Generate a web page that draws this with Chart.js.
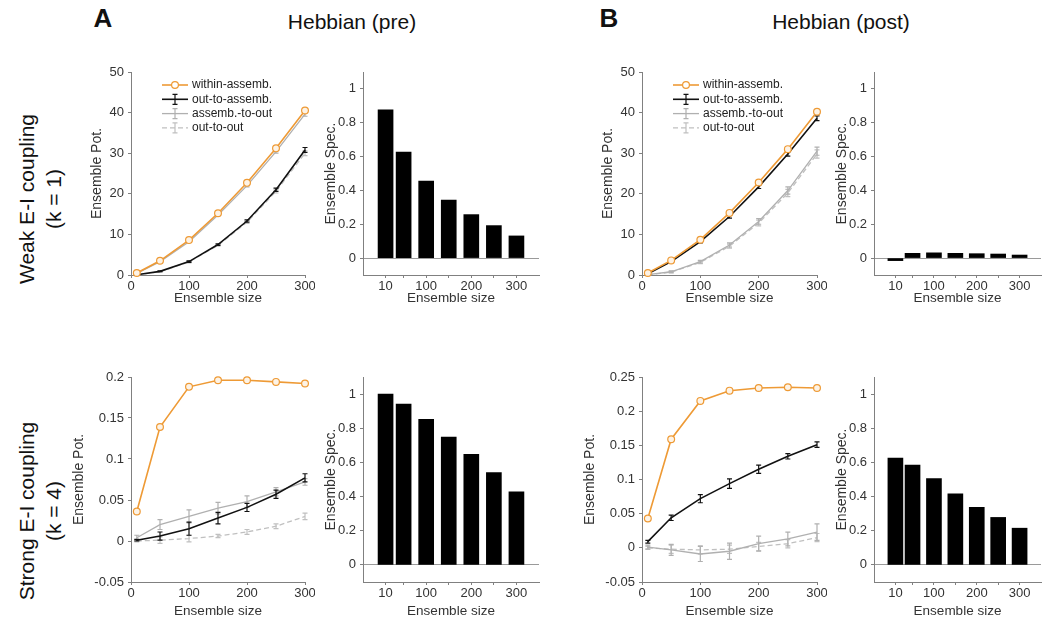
<!DOCTYPE html>
<html>
<head>
<meta charset="utf-8">
<script src="https://cdn.jsdelivr.net/npm/chart.js@4"></script>
<style>
  body { margin: 0; background: #fff; overflow: hidden; }
  #fig { position: relative; width: 1042px; height: 624px; font-family: "Liberation Sans", Arial, Helvetica, sans-serif; color: #111; }
  .lbl { position: absolute; transform: translate(-50%, -50%); white-space: nowrap; }
  .rot { transform: translate(-50%, -50%) rotate(-90deg); }
</style>
</head>
<body>
<div id="fig">
  <div class="lbl" style="left:103px;top:18px;font-size:26px;font-weight:bold;">A</div>
  <div class="lbl" style="left:352px;top:22px;font-size:21px;">Hebbian (pre)</div>
  <div class="lbl" style="left:609px;top:18px;font-size:26px;font-weight:bold;">B</div>
  <div class="lbl" style="left:841px;top:22px;font-size:21px;">Hebbian (post)</div>
  <div class="lbl rot" style="left:27px;top:199px;font-size:21px;">Weak E-I coupling</div>
  <div class="lbl rot" style="left:54px;top:199px;font-size:21px;">(k = 1)</div>
  <div class="lbl rot" style="left:27px;top:511px;font-size:21px;">Strong E-I coupling</div>
  <div class="lbl rot" style="left:54px;top:511px;font-size:21px;">(k = 4)</div>
</div>
<script>
// ensemble sizes used everywhere
const sizes = [10, 50, 100, 150, 200, 250, 300];
const seriesNames = ['within-assemb.', 'out-to-assemb.', 'assemb.-to-out', 'out-to-out'];

// A, weak coupling (ensemble potency)
const preWeakWithin   = [0.5, 3.5, 8.6, 15.2, 22.7, 31.2, 40.5];
const preWeakOutAsm   = [0.05, 0.9, 3.3, 7.5, 13.3, 21.0, 30.8];
const preWeakAsmOut   = [0.4, 3.3, 8.2, 14.8, 22.0, 30.4, 39.6];
const preWeakOutOut   = [0.05, 0.8, 3.2, 7.3, 13.0, 20.6, 30.0];
const preWeakErrOutAsm = [0.05, 0.1, 0.2, 0.2, 0.3, 0.4, 0.6];
const preWeakErrAsmOut = [0.05, 0.1, 0.2, 0.2, 0.3, 0.4, 0.5];
const preWeakErrOutOut = [0.05, 0.1, 0.2, 0.2, 0.3, 0.4, 0.6];

// B, weak coupling
const postWeakWithin  = [0.5, 3.6, 8.7, 15.3, 22.8, 31.0, 40.2];
const postWeakOutAsm  = [0.3, 3.3, 8.2, 14.4, 21.7, 29.8, 38.6];
const postWeakAsmOut  = [0.1, 0.8, 3.3, 7.4, 13.2, 20.8, 30.5];
const postWeakOutOut  = [0.05, 0.7, 3.1, 7.1, 12.8, 20.2, 29.8];
const postWeakErrOutAsm = [0.1, 0.2, 0.3, 0.4, 0.4, 0.5, 0.6];
const postWeakErrAsmOut = [0.1, 0.2, 0.3, 0.5, 0.7, 0.9, 1.0];
const postWeakErrOutOut = [0.1, 0.2, 0.3, 0.5, 0.7, 0.9, 1.0];

// A, strong coupling
const preStrongWithin = [0.036, 0.139, 0.188, 0.196, 0.196, 0.194, 0.192];
const preStrongOutAsm = [0.001, 0.006, 0.015, 0.028, 0.041, 0.057, 0.077];
const preStrongAsmOut = [0.004, 0.020, 0.030, 0.040, 0.048, 0.060, 0.072];
const preStrongOutOut = [0.000, 0.001, 0.003, 0.006, 0.011, 0.018, 0.030];
const preStrongErrOutAsm = [0.001, 0.005, 0.008, 0.007, 0.005, 0.005, 0.005];
const preStrongErrAsmOut = [0.003, 0.006, 0.008, 0.007, 0.007, 0.005, 0.004];
const preStrongErrOutOut = [0.001, 0.004, 0.004, 0.002, 0.003, 0.003, 0.004];

// B, strong coupling
const postStrongWithin = [0.043, 0.159, 0.215, 0.230, 0.234, 0.235, 0.234];
const postStrongOutAsm = [0.009, 0.044, 0.072, 0.094, 0.115, 0.134, 0.151];
const postStrongAsmOut = [0.001, -0.003, -0.009, -0.005, 0.006, 0.013, 0.023];
const postStrongOutOut = [0.000, -0.002, -0.003, -0.002, 0.002, 0.006, 0.015];
const postStrongErrOutAsm = [0.002, 0.004, 0.006, 0.007, 0.006, 0.004, 0.004];
const postStrongErrAsmOut = [0.003, 0.008, 0.011, 0.012, 0.011, 0.010, 0.012];
const postStrongErrOutOut = [0.002, 0.006, 0.006, 0.006, 0.006, 0.006, 0.006];

// ensemble specificity bars
const preWeakSpec    = [0.877, 0.626, 0.455, 0.343, 0.257, 0.192, 0.131];
const postWeakSpec   = [-0.015, 0.028, 0.031, 0.028, 0.026, 0.024, 0.018];
const preStrongSpec  = [1.0, 0.941, 0.852, 0.748, 0.647, 0.540, 0.428];
const postStrongSpec = [0.625, 0.584, 0.505, 0.416, 0.337, 0.278, 0.215];

// tick values
const potXTicks = [0, 100, 200, 300];
const weakYTicks = [0, 10, 20, 30, 40, 50];
const preStrongYTicks = [-0.05, 0, 0.05, 0.1, 0.15, 0.2];
const postStrongYTicks = [-0.05, 0, 0.05, 0.1, 0.15, 0.2, 0.25];
const specYTicks = [0, 0.2, 0.4, 0.6, 0.8, 1];
const specXLabels = [10, 100, 200, 300];

const FONT = '"Liberation Sans", Arial, Helvetica, sans-serif';
const AXIS = '#808080';
const TEXT = '#333';
const ORANGE = '#EE9A35';

Chart.defaults.font.family = FONT;
Chart.defaults.color = TEXT;

// error bars drawn right after each line so layering stays the same
const errorBars = {
  id: 'errorBars',
  afterDatasetDraw(chart, args) {
    const ds = chart.data.datasets[args.index];
    if (!ds.errors) return;
    const ctx = chart.ctx, y = chart.scales.y;
    ctx.save();
    ctx.strokeStyle = ds.borderColor;
    ctx.lineWidth = 1.2;
    args.meta.data.forEach((pt, i) => {
      const v = ds.data[i].y, e = ds.errors[i];
      const t = y.getPixelForValue(v + e), b = y.getPixelForValue(v - e);
      ctx.beginPath();
      ctx.moveTo(pt.x, t); ctx.lineTo(pt.x, b);
      ctx.moveTo(pt.x - 2.5, t); ctx.lineTo(pt.x + 2.5, t);
      ctx.moveTo(pt.x - 2.5, b); ctx.lineTo(pt.x + 2.5, b);
      ctx.stroke();
    });
    ctx.restore();
  }
};

// legend sitting inside the plot, matlab style
const insideLegend = {
  id: 'insideLegend',
  afterDraw(chart, args, opts) {
    if (!opts.show) return;
    const ctx = chart.ctx, area = chart.chartArea;
    ctx.save();
    ctx.font = '12px ' + FONT;
    ctx.textBaseline = 'middle';
    chart.data.datasets.forEach((ds, i) => {
      const yy = area.top + opts.top + i * opts.row;
      const x0 = area.left + opts.left, x1 = x0 + 26, xm = (x0 + x1) / 2;
      ctx.strokeStyle = ds.borderColor;
      ctx.lineWidth = ds.borderWidth;
      ctx.setLineDash(ds.borderDash || []);
      ctx.beginPath(); ctx.moveTo(x0, yy); ctx.lineTo(x1, yy); ctx.stroke();
      ctx.setLineDash([]);
      if (ds.errors) {
        ctx.lineWidth = 1.2;
        ctx.beginPath();
        ctx.moveTo(xm, yy - 5); ctx.lineTo(xm, yy + 5);
        ctx.moveTo(xm - 2.5, yy - 5); ctx.lineTo(xm + 2.5, yy - 5);
        ctx.moveTo(xm - 2.5, yy + 5); ctx.lineTo(xm + 2.5, yy + 5);
        ctx.stroke();
      } else if (ds.pointRadius) {
        ctx.fillStyle = '#fff';
        ctx.lineWidth = 1.2;
        ctx.beginPath(); ctx.arc(xm, yy, ds.pointRadius, 0, Math.PI * 2); ctx.fill(); ctx.stroke();
      }
      ctx.fillStyle = '#222';
      ctx.fillText(ds.label, x1 + 4, yy);
    });
    ctx.restore();
  }
};

const PAD_T = 10;
function frame(area, yw, xh, padR) {
  const w = yw + (area.r - area.l) + padR;
  const h = PAD_T + (area.b - area.t) + xh;
  const c = document.createElement('canvas');
  c.width = w; c.height = h;
  c.style.cssText = `position:absolute;left:${area.l - yw}px;top:${area.t - PAD_T}px;width:${w}px;height:${h}px`;
  document.getElementById('fig').appendChild(c);
  return c;
}

function xAxis(min, max, ticks, labelFn, xh) {
  return {
    type: 'linear', min, max, offset: false,
    afterBuildTicks: s => { s.ticks = ticks.map(v => ({ value: v })); },
    afterFit: s => { s.height = xh; s.paddingLeft = 0; s.paddingRight = 0; },
    ticks: { autoSkip: false, maxRotation: 0, padding: 1, color: TEXT, font: { size: 13 }, callback: labelFn },
    grid: { drawOnChartArea: false, offset: false, tickLength: 3, color: AXIS },
    border: { color: AXIS },
    title: { display: true, text: 'Ensemble size', color: TEXT, font: { size: 13.5, lineHeight: 1 }, padding: 0 }
  };
}

function yAxis(min, max, ticks, title, yw, zeroLine) {
  return {
    type: 'linear', min, max,
    afterBuildTicks: s => { s.ticks = ticks.map(v => ({ value: v })); },
    afterFit: s => { s.width = yw; s.paddingTop = 0; s.paddingBottom = 0; },
    ticks: { padding: 4, color: TEXT, font: { size: 13 }, callback: v => String(v) },
    grid: zeroLine
      ? { drawOnChartArea: true, tickLength: 3, tickColor: AXIS, color: c => (c.tick && c.tick.value === 0 ? '#9a9a9a' : 'rgba(0,0,0,0)') }
      : { drawOnChartArea: false, tickLength: 3, color: AXIS },
    border: { color: AXIS },
    title: { display: true, text: title, color: TEXT, font: { size: 14, lineHeight: 1 }, padding: 0 }
  };
}

function pts(vals) {
  return sizes.map((s, i) => ({ x: s, y: vals[i] }));
}

function potChart(area, yw, xh, yMin, yMax, yTicks, within, outAsm, asmOut, outOut, eOutAsm, eAsmOut, eOutOut, legend) {
  new Chart(frame(area, yw, xh, 10), {
    type: 'line',
    data: {
      datasets: [
        { label: seriesNames[0], data: pts(within), borderColor: ORANGE, borderWidth: 1.6,
          pointRadius: 3.4, pointBorderWidth: 1.2, pointBackgroundColor: '#fdf3e6', pointBorderColor: ORANGE },
        { label: seriesNames[1], data: pts(outAsm), errors: eOutAsm, borderColor: '#111', borderWidth: 1.6, pointRadius: 0 },
        { label: seriesNames[2], data: pts(asmOut), errors: eAsmOut, borderColor: '#b0b0b0', borderWidth: 1.3, pointRadius: 0 },
        { label: seriesNames[3], data: pts(outOut), errors: eOutOut, borderColor: '#c0c0c0', borderWidth: 1.3, borderDash: [5, 3], pointRadius: 0 }
      ]
    },
    options: {
      responsive: false, animation: false,
      layout: { padding: { top: PAD_T, right: 10, left: 0, bottom: 0 } },
      datasets: { line: { clip: false, tension: 0 } },
      scales: {
        x: xAxis(0, 300, potXTicks, v => String(v), xh),
        y: yAxis(yMin, yMax, yTicks, 'Ensemble Pot.', yw, false)
      },
      plugins: {
        legend: { display: false }, tooltip: { enabled: false },
        insideLegend: { show: legend, left: 31, top: 13, row: 14.3 }
      }
    },
    plugins: [errorBars, insideLegend]
  });
}

function specChart(area, xh, padR, vals) {
  new Chart(frame(area, 39, xh, padR), {
    type: 'bar',
    data: { datasets: [{ label: 'Ensemble Spec.', data: pts(vals), backgroundColor: '#000', borderWidth: 0, barThickness: 15 }] },
    options: {
      responsive: false, animation: false,
      layout: { padding: { top: PAD_T, right: padR, left: 0, bottom: 0 } },
      scales: {
        x: xAxis(-40, 350, sizes, v => (specXLabels.includes(v) ? String(v) : ''), xh),
        y: yAxis(-0.1, 1.1, specYTicks, 'Ensemble Spec.', 39, true)
      },
      plugins: { legend: { display: false }, tooltip: { enabled: false } }
    }
  });
}

const topRow = { t: 72, b: 275 }, botRow = { t: 377, b: 582 };
const box = (col, row) => ({ l: col[0], r: col[1], t: row.t, b: row.b });
const colLineA = [131, 305], colBarA = [363, 539], colLineB = [642, 817], colBarB = [874, 1041];

potChart(box(colLineA, topRow), 41, 30, 0, 50, weakYTicks,
  preWeakWithin, preWeakOutAsm, preWeakAsmOut, preWeakOutOut, preWeakErrOutAsm, preWeakErrAsmOut, preWeakErrOutOut, true);
specChart(box(colBarA, topRow), 30, 10, preWeakSpec);
potChart(box(colLineB, topRow), 41, 30, 0, 50, weakYTicks,
  postWeakWithin, postWeakOutAsm, postWeakAsmOut, postWeakOutOut, postWeakErrOutAsm, postWeakErrAsmOut, postWeakErrOutOut, true);
specChart(box(colBarB, topRow), 30, 1, postWeakSpec);

potChart(box(colLineA, botRow), 59, 36, -0.05, 0.2, preStrongYTicks,
  preStrongWithin, preStrongOutAsm, preStrongAsmOut, preStrongOutOut, preStrongErrOutAsm, preStrongErrAsmOut, preStrongErrOutOut, false);
specChart(box(colBarA, botRow), 36, 10, preStrongSpec);
potChart(box(colLineB, botRow), 59, 36, -0.05, 0.25, postStrongYTicks,
  postStrongWithin, postStrongOutAsm, postStrongAsmOut, postStrongOutOut, postStrongErrOutAsm, postStrongErrAsmOut, postStrongErrOutOut, false);
specChart(box(colBarB, botRow), 36, 1, postStrongSpec);
</script>
</body>
</html>
